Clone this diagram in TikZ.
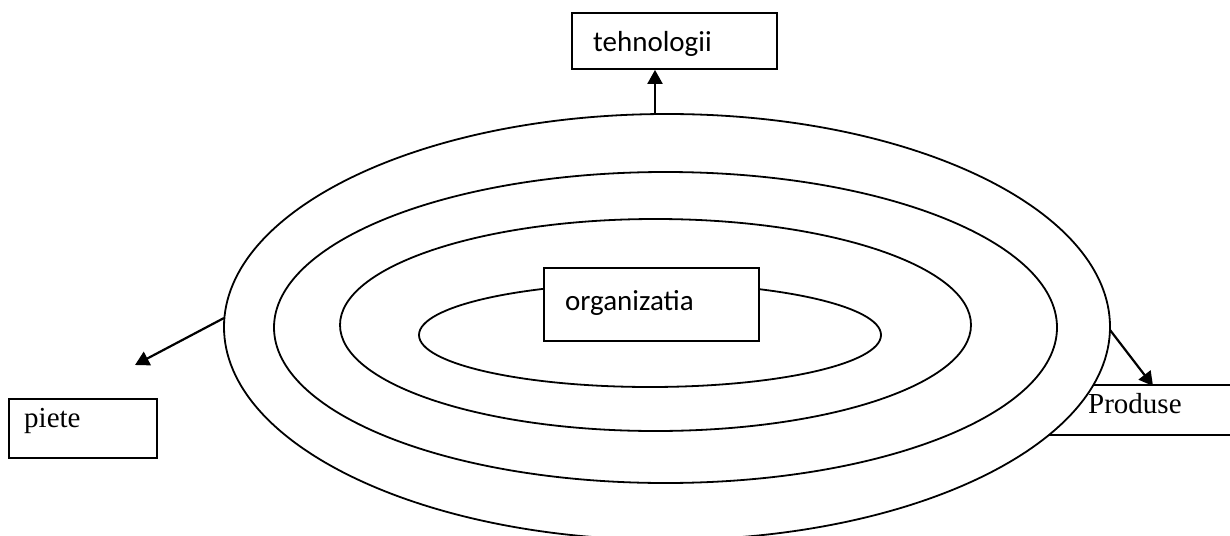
\documentclass[tikz,border=0pt]{standalone}
\usepackage{fontspec}
\setmainfont{Liberation Serif}
\newfontfamily\calfont{Carlito}
\usetikzlibrary{arrows.meta}
\begin{document}
\begin{tikzpicture}[x=1pt,y=-1pt,
  line/.style={line width=1.8pt},
  box/.style={draw,line width=1.8pt,fill=white,rectangle,inner sep=0pt},
  ring/.style={draw,line width=1.8pt,fill=white},
  arr/.style={line width=2.2pt,-{Triangle[length=14pt,width=15pt]}},
  ctext/.style={font=\calfont\fontsize{29}{34}\selectfont,anchor=base west,inner sep=0pt},
  ttext/.style={font=\fontsize{29}{34}\selectfont,anchor=base west,inner sep=0pt}]
\useasboundingbox (0,0) rectangle (1230,535);
\clip (0,0) rectangle (1230,535);
\fill[white] (0,0) rectangle (1230,535);
% Produse box (partly behind the outer ring)
\node[box,minimum width=260pt,minimum height=50pt] (prod) at (1130,410) {};
% rings
\coordinate (c1) at (667,327);
\coordinate (c2) at (665.5,327.5);
\coordinate (c3) at (655.5,325);
\coordinate (c4) at (650,335);
\draw[ring] (c1) ellipse [x radius=443pt, y radius=213pt];
\draw[ring] (c2) ellipse [x radius=391.5pt, y radius=155.5pt];
\draw[ring] (c3) ellipse [x radius=315.5pt, y radius=106pt];
\draw[ring] (c4) ellipse [x radius=231pt, y radius=52pt];
\node[ttext] (prodtxt) at (1088,413) {Produse};
% boxes
\node[box,minimum width=215pt,minimum height=73pt] (org) at (651.5,304.5) {};
\node[ctext] (orgtxt) at (565,310) {organizatia};
\node[box,minimum width=205pt,minimum height=56pt] (tech) at (674.5,41) {};
\node[ctext] (techtxt) at (593,52) {tehnologii};
\node[box,minimum width=148pt,minimum height=59pt] (piete) at (83,428.5) {};
\node[ttext] (pietetxt) at (24,427) {piete};
% arrow anchors on the outer ring
\coordinate (top) at (655,114);
\coordinate (left) at (224,318);
\coordinate (right) at (1110,330);
\coordinate (pieteend) at (135,365);
\coordinate (prodend) at (1153,386);
\draw[arr] (top) -- (tech.south -| top);
\draw[arr] (left) -- (pieteend);
\draw[arr] (right) -- (prodend);
\end{tikzpicture}
\end{document}
